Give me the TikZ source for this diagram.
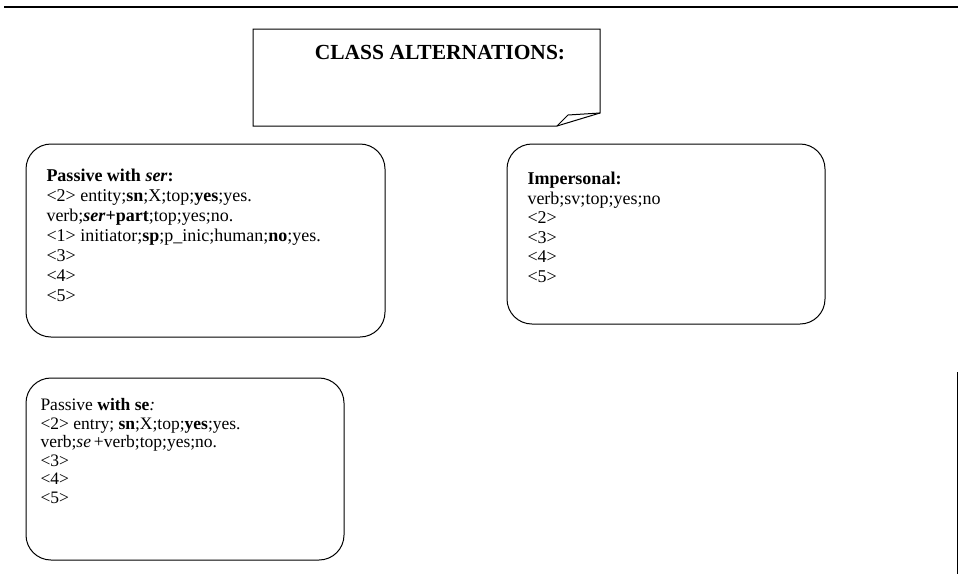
\documentclass[tikz,border=0pt]{standalone}
\usepackage{fontspec}
\setmainfont{Liberation Serif}
\usepackage{tikz}
\usetikzlibrary{positioning}

\tikzset{
  altbox/.style={draw, rounded corners=25pt, line width=1pt},
  alttext/.style={anchor=north west, align=left, inner sep=0pt,
    font=\fontsize{18}{20}\selectfont},
}

\begin{document}
\begin{tikzpicture}[x=1pt, y=-1pt, line width=1pt]
\useasboundingbox (0,0) rectangle (958,574);

% Top rule of the page
\draw[line width=2pt] (4,7) -- (958,7);

% Note with folded corner
\draw (253,29) -- (600,29) -- (600,113) -- (557,126) -- (253,126) -- cycle;
\draw (557,126) -- (568,115) -- (600,113);
\node[font=\bfseries\fontsize{21.5}{24}\selectfont] (title) at (440,53) {CLASS ALTERNATIONS:};

% Passive with ser
\draw[altbox] (26,144) rectangle (385,337);
\node[alttext] (ser) at (46,169) {%
  \textbf{Passive with \textit{ser}:}\\
  <2> entity;\textbf{sn};X;top;\textbf{yes};yes.\\
  verb;\textbf{\textit{ser}+part};top;yes;no.\\
  <1> initiator;\textbf{sp};p\_inic;human;\textbf{no};yes.\\
  <3>\\
  <4>\\
  <5>};

% Impersonal
\draw[altbox] (507,144) rectangle (825,324);
\node[alttext, font=\fontsize{18}{19.5}\selectfont] (impers) at (527,172) {%
  \textbf{Impersonal:}\\
  verb;sv;top;yes;no\\
  <2>\\
  <3>\\
  <4>\\
  <5>};

% Passive with se
\draw[altbox] (26,378) rectangle (344,560);
\node[alttext, font=\fontsize{17.5}{18.5}\selectfont] (se) at (40,398) {%
  Passive \textbf{with se}\textit{:}\\
  <2> entry; \textbf{sn};X;top;\textbf{yes};yes.\\
  verb;\textit{se}\,+verb;top;yes;no.\\
  <3>\\
  <4>\\
  <5>};

% Right margin rule
\draw (957,372) -- (957,574);

\end{tikzpicture}
\end{document}
